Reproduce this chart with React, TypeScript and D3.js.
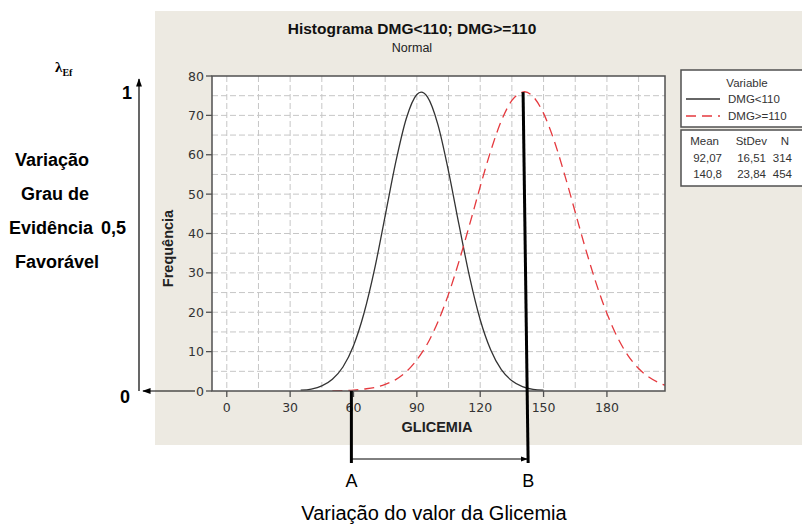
import React from 'react';
import * as d3 from 'd3';

// Fitted normal curves (Frequência at each GLICEMIA value)
const glicemiaLow = [35, 40, 45, 50, 55, 60, 65, 70, 75, 80, 85, 90, 92, 95, 100, 105, 110, 115, 120, 125, 130, 135, 140, 145, 150];
const freqLow = [0.2, 0.5, 1.3, 3.0, 6.1, 11.5, 19.8, 31.0, 44.5, 58.1, 69.2, 75.3, 75.9, 74.7, 67.6, 55.8, 42.1, 28.9, 18.1, 10.4, 5.4, 2.6, 1.1, 0.4, 0.2];

const glicemiaHigh = [50, 55, 60, 65, 70, 75, 80, 85, 90, 95, 100, 105, 110, 115, 120, 125, 130, 135, 140, 141, 145, 150, 155, 160, 165, 170, 175, 180, 185, 190, 195, 200, 205, 210];
const freqHigh = [0.05, 0.1, 0.2, 0.5, 0.9, 1.7, 2.9, 4.9, 7.9, 12.0, 17.6, 24.6, 33.0, 42.3, 51.9, 61.0, 68.6, 73.8, 75.9, 76.0, 74.8, 70.5, 63.6, 54.9, 45.4, 35.9, 27.2, 19.7, 13.6, 9.0, 5.7, 3.5, 2.0, 1.1];

const xTicks = [0, 30, 60, 90, 120, 150, 180];
const yTicks = [0, 10, 20, 30, 40, 50, 60, 70, 80];
const xGrid = [0, 15, 30, 45, 60, 75, 90, 105, 120, 135, 150, 165, 180, 195];
const yGrid = [5, 10, 15, 20, 25, 30, 35, 40, 45, 50, 55, 60, 65, 70, 75];

const seriesNames = ['DMG<110', 'DMG>=110'];
const statHeader = ['Mean', 'StDev', 'N'];
const statRows = [
  ['92,07', '16,51', '314'],
  ['140,8', '23,84', '454'],
];

// Annotation points A and B on the GLICEMIA axis
const pointA = 59;
const pointBTop = 140.3;
const pointBBottom = 142.7;
const peakHigh = 75.9;

const W = 802;
const H = 524;
const plot = { left: 212, right: 665, top: 76, bottom: 391 };
const chartFont = '"Liberation Sans", Arial, sans-serif';
const tickFont = '"DejaVu Sans", Verdana, sans-serif';
const gridColor = '#c6c6c6';
const frameColor = '#505050';

export default function App() {
  const x = d3.scaleLinear().domain([-7, 207.5]).range([plot.left, plot.right]);
  const y = d3.scaleLinear().domain([0, 80]).range([plot.bottom, plot.top]);

  const line = d3
    .line<[number, number]>()
    .x((d) => x(d[0]))
    .y((d) => y(d[1]))
    .curve(d3.curveMonotoneX);

  const lowPath = line(glicemiaLow.map((g, i) => [g, freqLow[i]]) as [number, number][]) || '';
  const highPath = line(glicemiaHigh.map((g, i) => [g, freqHigh[i]]) as [number, number][]) || '';

  const xA = x(pointA);
  const xBt = x(pointBTop);
  const xBb = x(pointBBottom);

  return (
    <svg
      width={W}
      height={H}
      style={{ position: 'absolute', left: 0, top: 0, background: '#fff' }}
      fontFamily={chartFont}
    >
      <defs>
        <clipPath id="plot-clip">
          <rect x={plot.left} y={plot.top} width={plot.right - plot.left} height={plot.bottom - plot.top} />
        </clipPath>
        <marker id="arrow" viewBox="0 0 10 10" refX="9" refY="5" markerWidth="7" markerHeight="7" orient="auto-start-reverse">
          <path d="M0,1.5 L10,5 L0,8.5 z" fill="#000" />
        </marker>
      </defs>

      {/* beige Minitab panel */}
      <rect x={155} y={11} width={W - 155} height={434} fill="#edeae2" />

      {/* title */}
      <text x={412} y={34} textAnchor="middle" fontSize={15.5} fontWeight="bold" fill="#111">
        Histograma DMG&lt;110; DMG&gt;=110
      </text>
      <text x={412} y={52} textAnchor="middle" fontSize={12.5} fill="#222">
        Normal
      </text>

      {/* plot area */}
      <rect x={plot.left} y={plot.top} width={plot.right - plot.left} height={plot.bottom - plot.top} fill="#fff" />
      {xGrid.map((v) => (
        <line key={'gx' + v} x1={x(v)} x2={x(v)} y1={plot.top} y2={plot.bottom} stroke={gridColor} strokeDasharray="6,3" />
      ))}
      {yGrid.map((v) => (
        <line key={'gy' + v} x1={plot.left} x2={plot.right} y1={y(v)} y2={y(v)} stroke={gridColor} strokeDasharray="6,3" />
      ))}

      <g clipPath="url(#plot-clip)">
        <path d={lowPath} fill="none" stroke="#333" strokeWidth={1.3} />
        <path d={highPath} fill="none" stroke="#e5393e" strokeWidth={1.3} strokeDasharray="10,6" />
      </g>

      <rect
        x={plot.left}
        y={plot.top}
        width={plot.right - plot.left}
        height={plot.bottom - plot.top}
        fill="none"
        stroke={frameColor}
        strokeWidth={1.5}
      />

      {/* y axis */}
      {yTicks.map((v) => (
        <g key={'yt' + v}>
          <line x1={plot.left - 6} x2={plot.left} y1={y(v)} y2={y(v)} stroke={frameColor} strokeWidth={1.3} />
          <text x={plot.left - 8} y={y(v) + 4.5} textAnchor="end" fontSize={12.5} fontFamily={tickFont} fill="#333">
            {v}
          </text>
        </g>
      ))}
      <text
        transform={`translate(173,${(plot.top + plot.bottom) / 2 + 15}) rotate(-90)`}
        textAnchor="middle"
        fontSize={14.5}
        fontWeight="bold"
        fill="#222"
      >
        Frequência
      </text>

      {/* x axis */}
      {xTicks.map((v) => (
        <g key={'xt' + v}>
          <line x1={x(v)} x2={x(v)} y1={plot.bottom} y2={plot.bottom + 6} stroke={frameColor} strokeWidth={1.3} />
          <text x={x(v)} y={plot.bottom + 21} textAnchor="middle" fontSize={12.5} fontFamily={tickFont} fill="#333">
            {v}
          </text>
        </g>
      ))}
      <text x={437} y={432} textAnchor="middle" fontSize={14.5} fontWeight="bold" fill="#222">
        GLICEMIA
      </text>

      {/* legend: variables */}
      <rect x={681} y={70} width={140} height={57} fill="#fff" stroke={frameColor} strokeWidth={1.5} />
      <text x={747} y={87} textAnchor="middle" fontSize={11.5} fill="#333">
        Variable
      </text>
      {seriesNames.map((name, i) => (
        <g key={name}>
          <line
            x1={686}
            x2={720}
            y1={99 + i * 17}
            y2={99 + i * 17}
            stroke={i === 0 ? '#333' : '#e5393e'}
            strokeWidth={1.5}
            strokeDasharray={i === 0 ? undefined : '10,6'}
          />
          <text x={728} y={103 + i * 17} fontSize={11.5} fill="#333">
            {name}
          </text>
        </g>
      ))}

      {/* legend: statistics */}
      <rect x={681} y={130} width={140} height={56} fill="#fff" stroke={frameColor} strokeWidth={1.5} />
      {statHeader.map((h, j) => (
        <text key={h} x={[719, 767, 789][j]} y={145} textAnchor="end" fontSize={11.5} fill="#333">
          {h}
        </text>
      ))}
      {statRows.map((row, i) =>
        row.map((cell, j) => (
          <text key={i + '-' + j} x={[722, 766, 792][j]} y={162 + i * 16} textAnchor="end" fontSize={11.5} fill="#333">
            {cell}
          </text>
        ))
      )}

      {/* evidence degree axis on the left */}
      <line x1={139} x2={139} y1={plot.bottom} y2={79} stroke="#000" strokeWidth={1.2} markerEnd="url(#arrow)" />
      <line x1={195} x2={143} y1={plot.bottom} y2={plot.bottom} stroke="#000" strokeWidth={1.2} markerEnd="url(#arrow)" />
      <text x={55} y={72} fontFamily='"Liberation Serif", "Times New Roman", serif' fontWeight="bold" fontSize={15} fill="#000">
        λ
        <tspan fontSize={10} dy={4}>
          Ef
        </tspan>
      </text>
      <text x={122} y={99} fontSize={18} fontWeight="bold" fill="#000">
        1
      </text>
      <text x={120} y={403} fontSize={18} fontWeight="bold" fill="#000">
        0
      </text>
      <g fontSize={18} fontWeight="bold" fill="#000" textAnchor="middle">
        <text x={52} y={166}>Variação</text>
        <text x={55} y={200}>Grau de</text>
        <text x={51} y={234}>Evidência</text>
        <text x={57} y={268}>Favorável</text>
      </g>
      <text x={101} y={234} fontSize={18} fontWeight="bold" fill="#000">
        0,5
      </text>

      {/* A → B range on the GLICEMIA axis */}
      <line x1={xA} x2={xA} y1={y(0)} y2={463} stroke="#000" strokeWidth={3} />
      <line x1={xBt} x2={xBb} y1={y(peakHigh)} y2={463} stroke="#000" strokeWidth={3} />
      <line x1={xA} x2={xBb - 1} y1={459} y2={459} stroke="#000" strokeWidth={1} markerEnd="url(#arrow)" />
      <text x={xA} y={487} textAnchor="middle" fontSize={18} fill="#000">
        A
      </text>
      <text x={xBb} y={487} textAnchor="middle" fontSize={18} fill="#000">
        B
      </text>
      <text x={434} y={520} textAnchor="middle" fontSize={20} fill="#000">
        Variação do valor da Glicemia
      </text>
    </svg>
  );
}
